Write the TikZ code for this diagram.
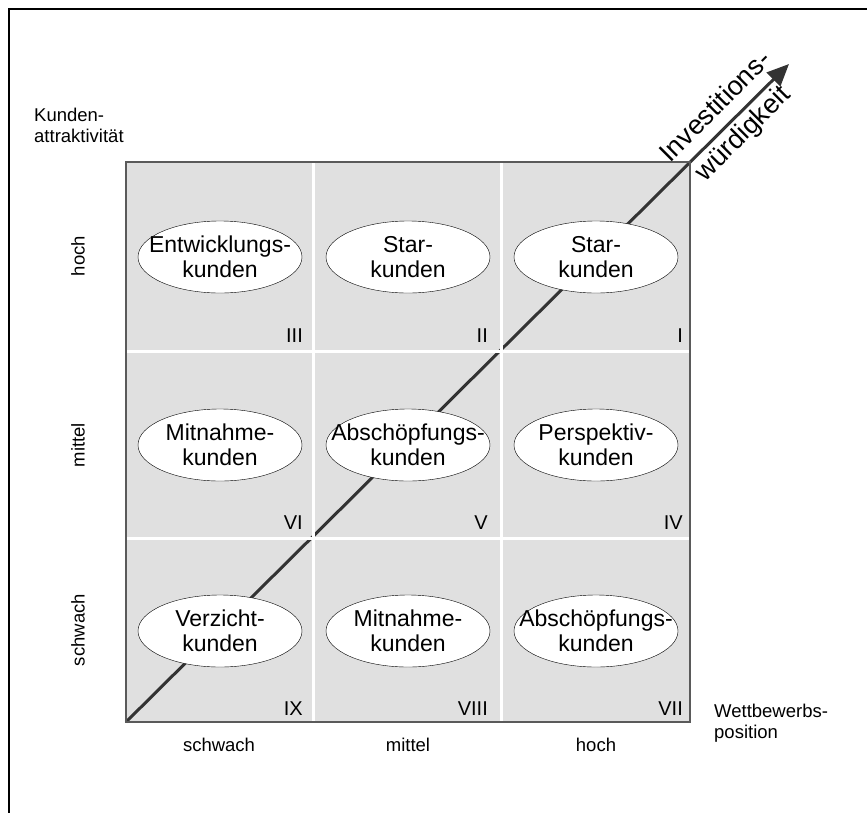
\documentclass[tikz,border=0pt]{standalone}
\usepackage{fontspec}
\setmainfont{Liberation Sans}
\usetikzlibrary{arrows.meta,shapes.geometric}
\definecolor{cellgray}{HTML}{E0E0E0}
\definecolor{framegray}{HTML}{5A5A5A}
\definecolor{arrowgray}{HTML}{333333}

\begin{document}
\begin{tikzpicture}[x=1pt, y=-1pt,
    kd/.style={ellipse, draw, fill=white, inner xsep=-21pt, inner ysep=0pt,
               minimum width=164pt, minimum height=72pt,
               align=center, font=\fontsize{23}{25}\selectfont},
    nr/.style={anchor=south east, inner sep=0pt, font=\fontsize{20}{22}\selectfont},
    ax/.style={inner sep=0pt, font=\fontsize{18.5}{21}\selectfont},
    sep/.style={white, line width=3pt},
    inv/.style={-{Triangle[length=22pt,width=19pt]}, line width=3pt, arrowgray}
]
\clip (0,0) rectangle (867,812);
\draw[line width=2.5pt] (9,9) rectangle (900,900);

% Portfolio-Matrix
\fill[cellgray] (126,162) rectangle (690,722);
\coordinate (o) at (126,722);
\coordinate (tip) at (789,64);
\draw[inv] (o) -- (tip);
\draw[sep] (313,162) -- (313,722);
\draw[sep] (501,162) -- (501,722);
\draw[sep] (126,351) -- (690,351);
\draw[sep] (126,538) -- (690,538);
\draw[framegray, line width=1.5pt] (126,162) rectangle (690,722);

\node[kd] (k3) at (220,257) {Entwicklungs-\\kunden};
\node[kd] (k2) at (408,257) {Star-\\kunden};
\node[kd] (k1) at (596,257) {Star-\\kunden};
\node[kd] (k6) at (220,445) {Mitnahme-\\kunden};
\node[kd] (k5) at (408,445) {Abschöpfungs-\\kunden};
\node[kd] (k4) at (596,445) {Perspektiv-\\kunden};
\node[kd] (k9) at (220,631) {Verzicht-\\kunden};
\node[kd] (k8) at (408,631) {Mitnahme-\\kunden};
\node[kd] (k7) at (596,631) {Abschöpfungs-\\kunden};

\node[nr] (n3) at (303,343) {III};
\node[nr] (n2) at (488,343) {II};
\node[nr] (n1) at (683,343) {I};
\node[nr] (n6) at (303,530) {VI};
\node[nr] (n5) at (488,530) {V};
\node[nr] (n4) at (683,530) {IV};
\node[nr] (n9) at (303,716) {IX};
\node[nr] (n8) at (488,716) {VIII};
\node[nr] (n7) at (683,716) {VII};

% Achsen
\node[ax, anchor=north west, align=left] (ka) at (34,108) {Kunden-\\attraktivität};
\node[ax, rotate=90] (y1) at (78,256) {hoch};
\node[ax, rotate=90] (y2) at (78,445) {mittel};
\node[ax, rotate=90] (y3) at (78,630) {schwach};
\node[ax] (x1) at (219,745) {schwach};
\node[ax] (x2) at (408,745) {mittel};
\node[ax] (x3) at (596,745) {hoch};
\node[ax, anchor=north west, align=left] (wp) at (714,704) {Wettbewerbs-\\position};

\node[rotate=45, align=center, inner sep=0pt, font=\fontsize{27}{38}\selectfont]
    (iw) at (730,121) {Investitions-\\würdigkeit};
\end{tikzpicture}
\end{document}
